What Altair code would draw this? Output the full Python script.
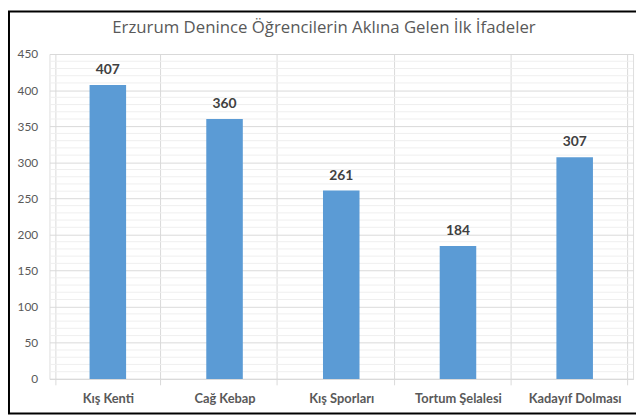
import altair as alt
import pandas as pd

title_text = "Erzurum Denince Öğrencilerin Aklına Gelen İlk İfadeler"
categories = ["Kış Kenti", "Cağ Kebap", "Kış Sporları", "Tortum Şelalesi", "Kadayıf Dolması"]
values = [407, 360, 261, 184, 307]
major_ticks = list(range(0, 451, 50))
minor_ticks = [v for v in range(10, 450, 10) if v % 50 != 0]

df = pd.DataFrame({"kategori": categories, "deger": values})
minor_df = pd.DataFrame({"v": minor_ticks})
title_df = pd.DataFrame({"t": [title_text]})

W, H = 591, 329
FONT = "Lato"

yscale = alt.Scale(domain=[0, 450], nice=False)
yaxis = alt.Axis(values=major_ticks, grid=True, gridColor="#d9d9d9",
                 domain=False, ticks=False, labelPadding=12,
                 labelFont=FONT, labelFontSize=12, labelColor="#595959")

xenc = alt.X("kategori:N", sort=categories, title=None,
             axis=alt.Axis(labelAngle=0, tickBand="extent", grid=True,
                           gridColor="#d9d9d9", domainColor="#d9d9d9",
                           tickColor="#d9d9d9", tickSize=6, labelPadding=8,
                           labelFont=FONT, labelFontSize=13, labelFontWeight="bold",
                           labelColor="#595959"))

minor = alt.Chart(minor_df).mark_rule(color="#efefef", strokeWidth=1).encode(
    y=alt.Y("v:Q", scale=yscale, title=None, axis=yaxis),
    x=alt.value(0), x2=alt.value(W),
)

bars = alt.Chart(df).mark_bar(color="#5b9bd5", size=37).encode(
    x=xenc,
    y=alt.Y("deger:Q", scale=yscale, title=None, axis=yaxis),
)

labels = alt.Chart(df).mark_text(baseline="bottom", dy=-8, font=FONT, fontSize=14,
                                 fontWeight="bold", color="#404040").encode(
    x=alt.X("kategori:N", sort=categories),
    y=alt.Y("deger:Q", scale=yscale, title=None, axis=yaxis),
    text="deger:Q",
)

title = alt.Chart(title_df).mark_text(font="Open Sans", fontSize=17, color="#595959",
                                      baseline="middle", align="center").encode(
    text="t:N", x=alt.value(278), y=alt.value(-26),
)

frame = alt.Chart(title_df).mark_rect(fillOpacity=0, stroke="black", strokeWidth=2).encode(
    x=alt.value(-41), x2=alt.value(W + 40), y=alt.value(-43), y2=alt.value(H + 35),
)

chart = alt.layer(minor, bars, labels, title, frame).properties(
    width=W, height=H,
    autosize=alt.AutoSizeParams(type="none"),
    padding={"left": 42, "top": 44, "right": 3, "bottom": 37},
).configure_view(stroke="#d9d9d9").configure(background="white")

chart.save("out.html", embed_options={"renderer": "svg", "actions": False})
